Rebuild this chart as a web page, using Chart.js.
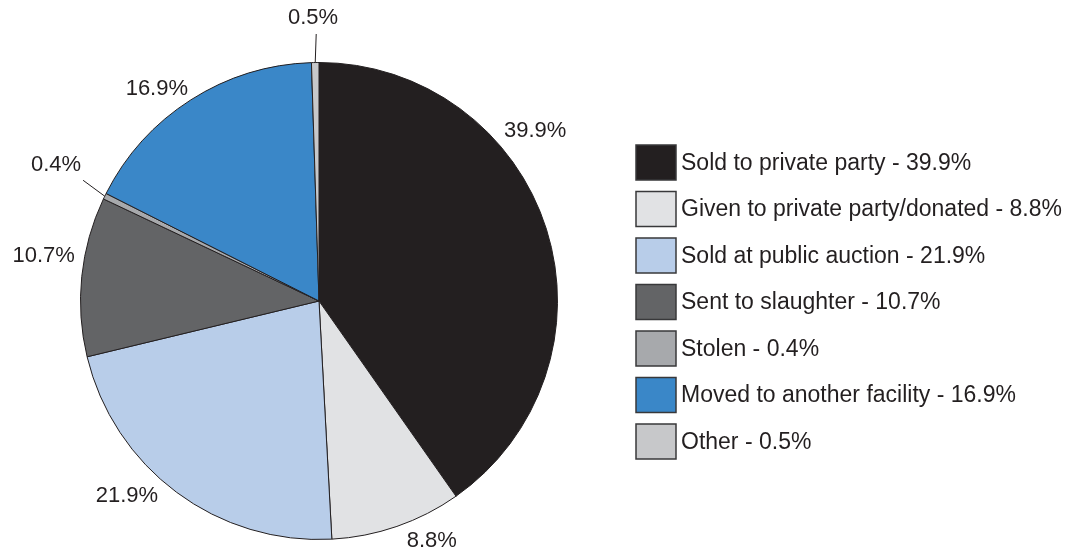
<!DOCTYPE html>
<html>
<head>
<meta charset="utf-8">
<script src="https://cdn.jsdelivr.net/npm/chart.js@4.4.1/dist/chart.umd.min.js"></script>
<style>
  html, body { margin: 0; padding: 0; background: #fff; }
  #wrap { width: 1073px; height: 554px; position: relative; }
</style>
</head>
<body>
<div id="wrap"><canvas id="myChart"></canvas></div>
<script>
const categories = [
    'Sold to private party',
    'Given to private party/donated',
    'Sold at public auction',
    'Sent to slaughter',
    'Stolen',
    'Moved to another facility',
    'Other'
];
const percentages = [39.9, 8.8, 21.9, 10.7, 0.4, 16.9, 0.5];

const colors = ['#231f20', '#e1e2e4', '#b8cde9', '#636466', '#a7a9ac', '#3a87c8', '#c7c8ca'];

// where the % labels sit: angle clockwise from 12 o'clock (deg), distance from centre (px)
const labelAngle = [51.8, 154.8, 224.5, 279.3, 297.3, 322.6, 358.8];
const labelDist = [275, 265, 274, 279, 296, 267, 283];
// leader lines for the thin slices (null = none)
const leaderEnd = [null, null, null, null, [297.1, 265], null, [359.4, 267]];

const FONT = '22px "Liberation Sans", Arial, sans-serif';
const LEGEND_FONT = '23px "Liberation Sans", Arial, sans-serif';
const TEXT = '#231f20';

function polar(cx, cy, deg, d) {
    const a = (deg - 90) * Math.PI / 180;
    return [cx + d * Math.cos(a), cy + d * Math.sin(a)];
}

const pieLabels = {
    id: 'pieLabels',
    afterDatasetsDraw(chart) {
        const ctx = chart.ctx;
        const arcs = chart.getDatasetMeta(0).data;
        ctx.save();
        ctx.font = FONT;
        ctx.fillStyle = TEXT;
        ctx.textAlign = 'center';
        ctx.textBaseline = 'middle';
        arcs.forEach((arc, i) => {
            const cx = arc.x, cy = arc.y;
            const [lx, ly] = polar(cx, cy, labelAngle[i], labelDist[i]);
            ctx.fillText(percentages[i].toFixed(1) + '%', lx, ly);
            if (leaderEnd[i]) {
                const mid = (arc.startAngle + arc.endAngle) / 2;
                const sx = cx + arc.outerRadius * Math.cos(mid);
                const sy = cy + arc.outerRadius * Math.sin(mid);
                const [ex, ey] = polar(cx, cy, leaderEnd[i][0], leaderEnd[i][1]);
                ctx.beginPath();
                ctx.moveTo(sx, sy);
                ctx.lineTo(ex, ey);
                ctx.strokeStyle = TEXT;
                ctx.lineWidth = 1;
                ctx.stroke();
            }
        });

        // legend
        const boxX = 636, boxY = 145, boxW = 40, boxH = 35, rowGap = 46.5;
        ctx.textAlign = 'left';
        ctx.font = LEGEND_FONT;
        categories.forEach((name, i) => {
            const y = boxY + i * rowGap;
            ctx.fillStyle = colors[i];
            ctx.fillRect(boxX, y, boxW, boxH);
            ctx.strokeStyle = '#38383a';
            ctx.lineWidth = 1.5;
            ctx.strokeRect(boxX, y, boxW, boxH);
            ctx.fillStyle = TEXT;
            ctx.fillText(name + ' - ' + percentages[i].toFixed(1) + '%', boxX + boxW + 5, y + boxH / 2 + 1);
        });
        ctx.restore();
    }
};

const ctx = document.getElementById('myChart').getContext('2d');
new Chart(ctx, {
    type: 'pie',
    data: {
        labels: categories,
        datasets: [{
            data: percentages,
            backgroundColor: colors,
            borderColor: '#231f20',
            borderWidth: 1
        }]
    },
    options: {
        responsive: true,
        maintainAspectRatio: false,
        animation: false,
        layout: {
            padding: { left: 80, top: 62, right: 515, bottom: 14 }
        },
        plugins: {
            legend: { display: false },
            tooltip: { enabled: false }
        }
    },
    plugins: [pieLabels]
});
</script>
</body>
</html>
